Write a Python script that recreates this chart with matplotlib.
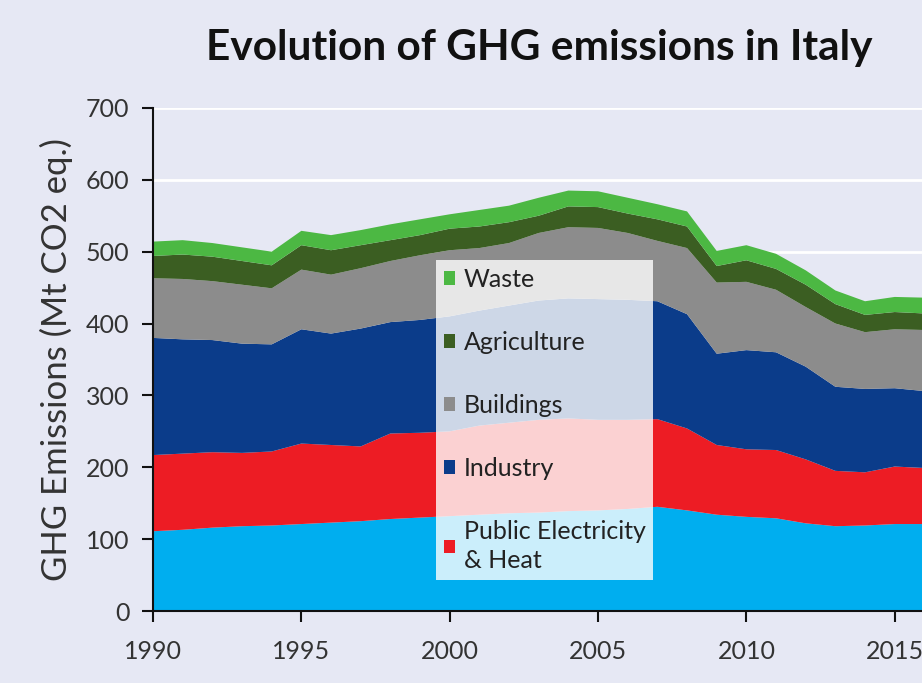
import matplotlib
matplotlib.use("Agg")
import matplotlib.pyplot as plt
from matplotlib.patches import Patch

plt.rcParams['font.family'] = ['Lato', 'DejaVu Sans']

years = list(range(1990, 2017))

# stacked boundaries (Mt CO2 eq.), then turned into layers
top_transport = [111, 113, 116, 118, 119, 121, 123, 125, 128, 130, 132, 134, 136, 137,
                 139, 140, 142, 145, 140, 134, 131, 129, 122, 118, 119, 121, 121]
top_power = [217, 219, 221, 220, 222, 233, 231, 229, 247, 248, 250, 258, 262, 266,
             268, 266, 266, 267, 254, 231, 225, 224, 211, 195, 193, 201, 199]
top_industry = [380, 378, 377, 372, 371, 392, 386, 393, 402, 405, 410, 418, 425, 432,
                435, 434, 433, 431, 413, 358, 363, 360, 340, 312, 309, 310, 306]
top_buildings = [463, 462, 459, 454, 449, 475, 468, 477, 487, 495, 502, 505, 512, 526,
                 534, 533, 526, 515, 505, 457, 458, 447, 423, 400, 388, 392, 391]
top_agri = [494, 496, 493, 487, 481, 509, 502, 509, 516, 523, 532, 535, 541, 550,
            563, 562, 553, 545, 535, 480, 488, 476, 454, 427, 412, 416, 414]
top_waste = [514, 516, 512, 506, 500, 529, 523, 530, 538, 545, 552, 558, 564, 575,
             585, 584, 575, 566, 556, 501, 509, 497, 474, 446, 431, 437, 436]

tops = [top_transport, top_power, top_industry, top_buildings, top_agri, top_waste]
layers = [tops[0]] + [[b - a for a, b in zip(tops[i - 1], tops[i])] for i in range(1, len(tops))]

sectors = ['Transport', 'Public Electricity\n& Heat', 'Industry', 'Buildings', 'Agriculture', 'Waste']
colors = ['#00aeef', '#ed1c24', '#0b3c8a', '#8c8c8c', '#3b5e22', '#4cb843']

bg = '#e6e8f4'
fig = plt.figure(figsize=(9.22, 6.83), dpi=100, facecolor=bg)
ax = fig.add_axes([0.166, 0.1054, 0.834, 0.7366], facecolor=bg)

ax.set_axisbelow(True)
ax.yaxis.grid(True, color='white', linewidth=2)
ax.stackplot(years, layers, colors=colors, linewidth=0)

ax.set_xlim(1990, 2015.92)
ax.set_ylim(0, 700)
ax.set_xticks(range(1990, 2016, 5))
ax.set_yticks(range(0, 701, 100))
ax.tick_params(axis='both', direction='out', length=8, width=1.5, color='#111111',
               labelsize=18, labelcolor='#333333', pad=9)
ax.tick_params(axis='x', pad=13)
for s in ['top', 'right']:
    ax.spines[s].set_visible(False)
for s in ['left', 'bottom']:
    ax.spines[s].set_color('#111111')
    ax.spines[s].set_linewidth(1.5)

ax.set_ylabel('GHG Emissions (Mt CO2 eq.)', fontsize=25, color='#333333', labelpad=9)
fig.text(0.585, 0.93, 'Evolution of GHG emissions in Italy', fontsize=30.5, fontweight='bold',
         color='#111111', ha='center', va='center')

handles = [Patch(facecolor=colors[i], edgecolor='none', label=sectors[i]) for i in range(5, 0, -1)]
leg = fig.legend(handles=handles, loc='upper left', bbox_to_anchor=(0.473, 0.619),
                 fontsize=18, frameon=True, fancybox=False, handlelength=0.45, handleheight=0.45,
                 handletextpad=0.35, labelspacing=1.6, borderpad=0.3, borderaxespad=0)
leg.get_frame().set_facecolor('white')
leg.get_frame().set_alpha(0.8)
leg.get_frame().set_edgecolor('none')
for t in leg.get_texts():
    t.set_color('#222222')
    t.set_linespacing(1.35)

fig.savefig('out.png', dpi=100, facecolor=bg)
